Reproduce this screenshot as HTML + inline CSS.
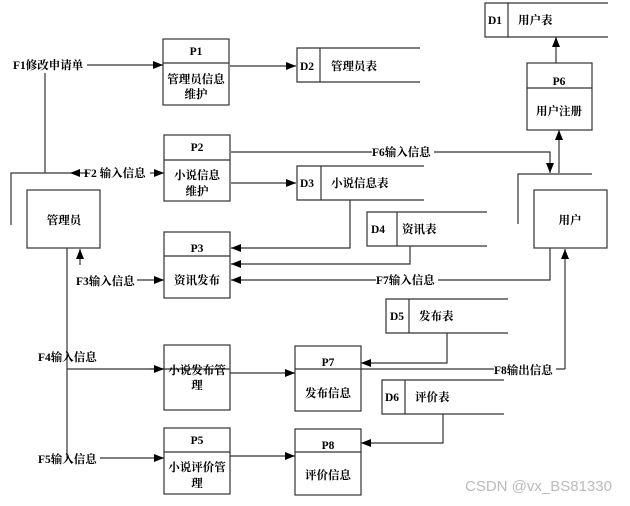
<!DOCTYPE html>
<html><head><meta charset="utf-8"><style>
body{margin:0;background:#fff;}
svg text{font-family:"Liberation Serif","Noto Serif CJK SC","Noto Sans CJK SC",serif;font-weight:bold;font-size:11.5px;fill:#000;}
</style></head><body>
<svg width="630" height="501" viewBox="0 0 630 501" xmlns="http://www.w3.org/2000/svg">
<defs><marker id="a" markerWidth="10" markerHeight="8" refX="10" refY="4" orient="auto" markerUnits="userSpaceOnUse"><path d="M0,0L10,4L0,8z" fill="#000"/></marker></defs>
<g fill="none" stroke="#333" stroke-width="1.2">
<rect x="163" y="39" width="66" height="66"/><line x1="163" y1="63" x2="229" y2="63"/>
<rect x="164" y="135" width="66" height="66"/><line x1="164" y1="160" x2="230" y2="160"/>
<rect x="164" y="232" width="66" height="66"/><line x1="164" y1="256" x2="230" y2="256"/>
<rect x="164" y="345" width="66" height="65"/>
<rect x="164" y="428" width="66" height="66"/><line x1="164" y1="452" x2="230" y2="452"/>
<rect x="295" y="346" width="66" height="65"/>
<rect x="295" y="429" width="66" height="66"/><line x1="295" y1="452" x2="361" y2="452"/>
<rect x="527" y="63" width="65" height="67"/><line x1="527" y1="88" x2="592" y2="88"/>
<rect x="27" y="190" width="73" height="58"/>
<rect x="534" y="190" width="73" height="58"/>
<path d="M420,48H297V82H420M320,48V82"/>
<path d="M424,166H297V200H424M321,166V200"/>
<path d="M608,3H485V37H608M508,3V37"/>
<path d="M487,212H367V246H487M397,212V246"/>
<path d="M508,299H386V333H508M409,299V333"/>
<path d="M504,380H382V414H504M405,380V414"/>
<path d="M11,225V173H70M45,173V73"/>
<path d="M518,224V174H592"/>
<line x1="67" y1="248" x2="67" y2="458"/>
<line x1="67" y1="369" x2="230" y2="369"/>
<line x1="295" y1="369" x2="565" y2="369"/>
</g>
<g fill="none" stroke="#333" stroke-width="1.2" marker-end="url(#a)">
<line x1="87" y1="65" x2="163" y2="65"/>
<line x1="230" y1="66" x2="296" y2="66"/>
<line x1="150" y1="173" x2="164" y2="173"/>
<line x1="88" y1="173" x2="70" y2="173"/>
<line x1="231" y1="183" x2="296" y2="183"/>
<path d="M231,152H550V173"/>
<line x1="559" y1="173" x2="559" y2="130"/>
<line x1="556" y1="63" x2="556" y2="37"/>
<path d="M350,200V248H231"/>
<path d="M410,246V264H231"/>
<path d="M550,248V280H231"/>
<line x1="80" y1="265" x2="80" y2="249"/>
<line x1="137" y1="280" x2="164" y2="280"/>
<line x1="150" y1="369" x2="164" y2="369"/>
<line x1="230" y1="373" x2="295" y2="373"/>
<path d="M565,369V249"/>
<path d="M447,333V363H361"/>
<path d="M443,414V443H361"/>
<line x1="100" y1="458" x2="164" y2="458"/>
<line x1="230" y1="456" x2="295" y2="456"/>
</g>
<g>
<rect x="13" y="58" width="74" height="14" fill="#fff"/>
<text x="13" y="69">F1修改申请单</text>
<rect x="88" y="166" width="62" height="14" fill="#fff"/>
<text x="84" y="177">F2 输入信息</text>
<rect x="372" y="145" width="62" height="14" fill="#fff"/>
<text x="372" y="156">F6输入信息</text>
<rect x="376" y="273" width="62" height="14" fill="#fff"/>
<text x="376" y="284">F7输入信息</text>
<text x="76" y="285">F3输入信息</text>
<text x="38" y="361">F4输入信息</text>
<text x="38" y="463">F5输入信息</text>
<rect x="494" y="362" width="62" height="14" fill="#fff"/>
<text x="494" y="374">F8输出信息</text>
</g>
<g text-anchor="middle">
<text x="196" y="55">P1</text><text x="196" y="83">管理员信息</text><text x="196" y="98">维护</text>
<text x="197" y="151">P2</text><text x="197" y="179">小说信息</text><text x="197" y="195">维护</text>
<text x="197" y="252">P3</text><text x="197" y="284">资讯发布</text>
<text x="197" y="374">小说发布管</text><text x="197" y="389">理</text>
<text x="197" y="444">P5</text><text x="197" y="471">小说评价管</text><text x="197" y="487">理</text>
<text x="328" y="366">P7</text><text x="328" y="397">发布信息</text>
<text x="328" y="449">P8</text><text x="328" y="479">评价信息</text>
<text x="559" y="85">P6</text><text x="559" y="115">用户注册</text>
<text x="64" y="224">管理员</text>
<text x="570" y="224">用户</text>
</g>
<g>
<text x="300" y="70">D2</text><text x="331" y="70">管理员表</text>
<text x="300" y="187">D3</text><text x="331" y="187">小说信息表</text>
<text x="488" y="24">D1</text><text x="518" y="24">用户表</text>
<text x="371" y="233">D4</text><text x="402" y="233">资讯表</text>
<text x="390" y="320">D5</text><text x="419" y="320">发布表</text>
<text x="385" y="401">D6</text><text x="415" y="401">评价表</text>
</g>
<text x="465" y="491" style="font-family:'Liberation Sans',sans-serif;font-weight:normal;font-size:15px;fill:#bbb">CSDN @vx_BS81330</text>
</svg>
</body></html>
